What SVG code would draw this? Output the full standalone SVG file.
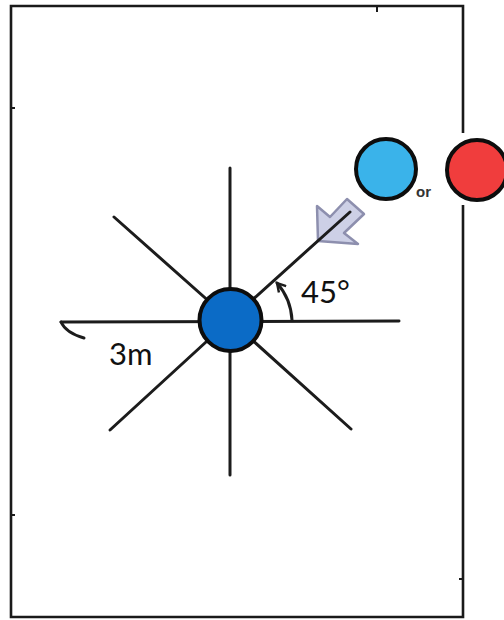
<svg xmlns="http://www.w3.org/2000/svg" width="504" height="620" viewBox="0 0 504 620">
  <style>
    .ln{stroke:#1c1c1c;stroke-width:3;fill:none;stroke-linecap:round}
    .frame{stroke:#1a1a1a;stroke-width:2.6;fill:none}
    .node{stroke:#0d0d0d;stroke-width:4}
    .lbl{font-family:Lato,"Open Sans","Liberation Sans",sans-serif;font-size:31px;fill:#111}
    .or{font-family:"Liberation Sans",Arial,sans-serif;font-size:15px;font-weight:bold;fill:#333}
  </style>
  <defs>
    <marker id="chev" viewBox="0 0 10 10" refX="8" refY="5" markerWidth="4" markerHeight="4" orient="auto" markerUnits="strokeWidth">
      <path d="M1,1 L8,5 L1,9" fill="none" stroke="#1c1c1c" stroke-width="2"/>
    </marker>
  </defs>
  <rect width="504" height="620" fill="#ffffff"/>
  <g id="frame">
    <path class="frame" d="M463,133 L463,6 L11,6 L11,617 L463,617 L463,205"/>
    <path d="M377,7 v5 M12,108 h3 M12,515 h3 M459,579 h4" stroke="#1a1a1a" stroke-width="2"/>
  </g>
  <g id="connectors">
    <line class="ln" x1="230" y1="168" x2="230" y2="475"/>
    <line class="ln" x1="61" y1="322" x2="399" y2="321"/>
    <line class="ln" x1="114" y1="217" x2="230" y2="320"/>
    <line class="ln" x1="110" y1="430" x2="230" y2="320"/>
    <line class="ln" x1="351" y1="429" x2="230" y2="320"/>
    <path class="ln" d="M61,322 Q66,333 84,338"/>
    <path class="ln" d="M292,320 A61,61 0 0 0 277,283" stroke-width="2.4" marker-end="url(#chev)"/>
  </g>
  <g id="arrow">
    <polygon points="318,241 358,244 344,233 364,214 347,199 330,217 317,206" fill="#cdd0e6" stroke="#8d8fae" stroke-width="2.5" stroke-linejoin="round"/>
  </g>
  <g id="diagonal">
    <line class="ln" x1="230" y1="320" x2="350" y2="212"/>
  </g>
  <g id="center-node">
    <circle class="node" cx="230.5" cy="320" r="31" fill="#0b6bc6"/>
  </g>
  <g id="light-blue-node">
    <circle class="node" cx="386" cy="169" r="30" fill="#3ab3ea"/>
  </g>
  <g id="red-node">
    <circle class="node" cx="477" cy="170" r="30" fill="#f03d3d"/>
  </g>
  <g id="labels">
    <text class="or" x="416" y="197">or</text>
    <text class="lbl" x="301" y="303">45°</text>
    <text class="lbl" x="109" y="365">3m</text>
  </g>
</svg>
